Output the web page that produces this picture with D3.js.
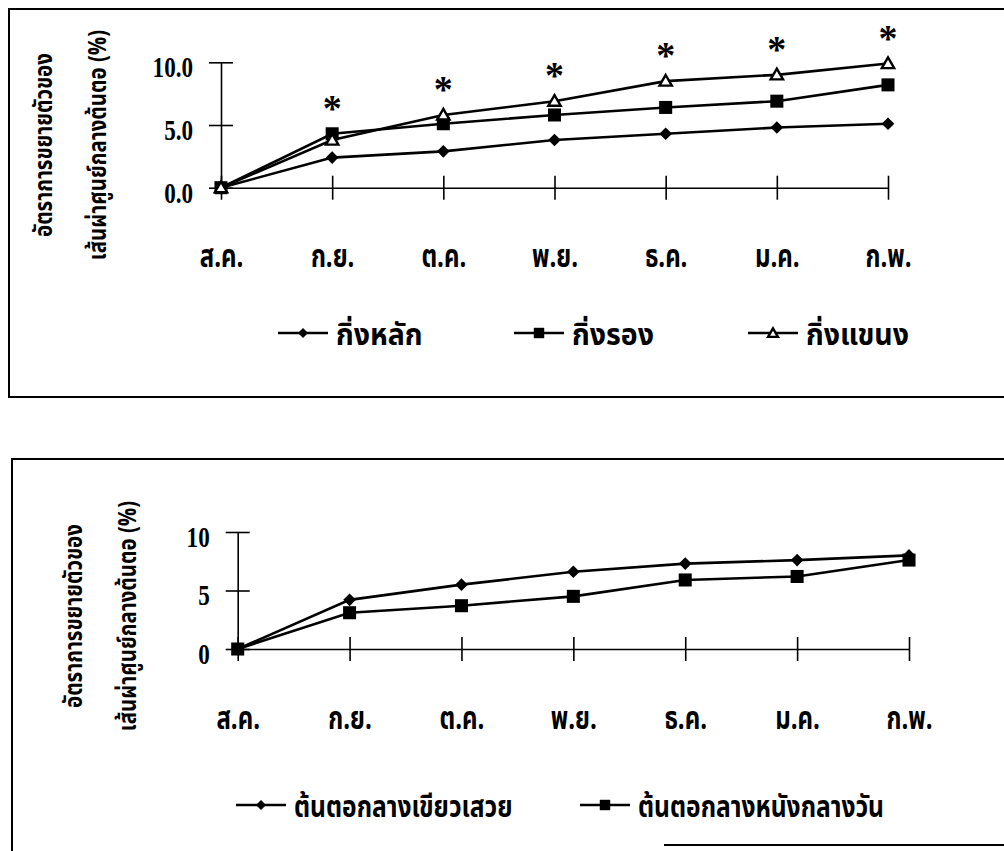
<!DOCTYPE html>
<html>
<head>
<meta charset="utf-8">
<script src="https://cdn.jsdelivr.net/npm/d3@7"></script>
<style>
  html, body { margin: 0; padding: 0; background: #fff; }
  svg { display: block; }
</style>
</head>
<body>
<svg id="chart" width="1004" height="851"></svg>
<script>
// Months (Aug – Feb)
const months = ["ส.ค.", "ก.ย.", "ต.ค.", "พ.ย.", "ธ.ค.", "ม.ค.", "ก.พ."];

// Panel 1: branch types
const branchNames = ["กิ่งหลัก", "กิ่งรอง", "กิ่งแขนง"];
const mainBranch = [0, 2.4, 2.9, 3.8, 4.3, 4.8, 5.1];
const secondaryBranch = [0, 4.3, 5.1, 5.8, 6.4, 6.9, 8.2];
const lateralBranch = [0, 3.8, 5.8, 6.9, 8.5, 9.0, 9.9];
const significant = [false, true, true, true, true, true, true];
const yTicksTop = [0, 5, 10];
const yTickLabelsTop = ["0.0", "5.0", "10.0"];

// Panel 2: rootstock types
const stockNames = ["ต้นตอกลางเขียวเสวย", "ต้นตอกลางหนังกลางวัน"];
const greenStock = [0, 4.2, 5.5, 6.6, 7.3, 7.6, 8.0];
const leatherStock = [0, 3.1, 3.7, 4.5, 5.9, 6.2, 7.6];
const yTicksBottom = [0, 5, 10];
const yTickLabelsBottom = ["0", "5", "10"];

const yTitle = ["อัตราการขยายตัวของ", "เส้นผ่าศูนย์กลางต้นตอ (%)"];

const svg = d3.select("#chart");
const thaiFont = "'Noto Sans Thai', 'Noto Sans', 'DejaVu Sans', sans-serif";
const numFont = "'Liberation Serif', 'Times New Roman', serif";

function marker(g, type, x, y, s) {
  if (type === "diamond") {
    g.append("path")
      .attr("d", d3.symbol(d3.symbolSquare, 80 * s * s)())
      .attr("transform", `translate(${x},${y}) rotate(45)`)
      .attr("fill", "#000");
  } else if (type === "square") {
    g.append("path")
      .attr("d", d3.symbol(d3.symbolSquare, 170 * s * s)())
      .attr("transform", `translate(${x},${y})`)
      .attr("fill", "#000");
  } else {
    g.append("path")
      .attr("d", d3.symbol(d3.symbolTriangle, 66 * s * s)())
      .attr("transform", `translate(${x},${y + 1})`)
      .attr("fill", "#fff")
      .attr("stroke", "#000")
      .attr("stroke-width", 2.4);
  }
}

function panel(cfg) {
  const g = svg.append("g");

  // frame
  g.append("path")
    .attr("d", cfg.frame)
    .attr("fill", "none")
    .attr("stroke", "#000")
    .attr("stroke-width", 2);

  const x = d3.scalePoint().domain(months).range([cfg.x0, cfg.x1]);
  const y = d3.scaleLinear().domain([0, 10]).range([cfg.yBottom, cfg.yTop]);

  // y axis with crossing ticks
  const yAxis = g.append("g")
    .attr("transform", `translate(${cfg.x0},0)`)
    .call(d3.axisLeft(y).tickValues(cfg.yTicks)
      .tickFormat((d, i) => cfg.yLabels[i])
      .tickSizeOuter(0).tickSizeInner(12).tickPadding(16));
  yAxis.selectAll(".tick line").attr("x1", -12).attr("x2", 12);
  yAxis.selectAll("line, path").attr("stroke", "#000").attr("stroke-width", 1.6);
  yAxis.selectAll("text")
    .attr("font-family", numFont).attr("font-weight", "bold")
    .attr("font-size", 22).attr("fill", "#000")
    .attr("x", 0).attr("dy", "0.5em")
    .attr("transform", "translate(-28,0) scale(1.05,1.3)");

  // x axis with crossing ticks
  const xAxis = g.append("g")
    .attr("transform", `translate(0,${cfg.yBottom})`)
    .call(d3.axisBottom(x).tickSizeOuter(0).tickSizeInner(12));
  xAxis.selectAll(".tick line").attr("y1", -12).attr("y2", 12);
  xAxis.selectAll("line, path").attr("stroke", "#000").attr("stroke-width", 1.6);
  xAxis.selectAll("text")
    .attr("font-family", thaiFont).attr("font-weight", "bold")
    .attr("font-size", 32).attr("fill", "#000")
    .attr("y", 0).attr("dy", 0)
    .attr("transform", `translate(0,${cfg.labelOffset}) scale(0.75,1)`);

  // y axis title (two rotated lines)
  cfg.titleX.forEach((tx, i) => {
    g.append("text")
      .attr("transform", `translate(${tx},${cfg.titleY}) rotate(-90) scale(0.82,1)`)
      .attr("text-anchor", "middle")
      .attr("font-family", thaiFont).attr("font-weight", "bold")
      .attr("font-size", 25).attr("fill", "#000")
      .text(yTitle[i]);
  });

  // series
  const line = d3.line().x((d, i) => x(months[i])).y(d => y(d));
  cfg.series.forEach(s => {
    g.append("path")
      .attr("d", line(s.values))
      .attr("fill", "none").attr("stroke", "#000").attr("stroke-width", 2.6);
  });
  cfg.series.forEach(s => {
    s.values.forEach((v, i) => marker(g, s.type, x(months[i]), y(v), 1));
  });

  // significance marks
  if (cfg.sig) {
    months.forEach((m, i) => {
      if (!cfg.sig[i]) return;
      const top = d3.max(cfg.series, s => s.values[i]);
      g.append("text")
        .attr("x", x(m)).attr("y", y(top) - 31 + 18)
        .attr("text-anchor", "middle")
        .attr("font-family", numFont).attr("font-weight", "bold")
        .attr("font-size", 38).attr("fill", "#000")
        .text("*");
    });
  }

  // legend
  cfg.series.forEach((s, i) => {
    const lx = cfg.legendX[i];
    const ly = cfg.legendY;
    g.append("line")
      .attr("x1", lx).attr("x2", lx + 50).attr("y1", ly).attr("y2", ly)
      .attr("stroke", "#000").attr("stroke-width", 2.6);
    marker(g, s.type, lx + 25, ly, 0.8);
    g.append("text")
      .attr("transform", `translate(${lx + 58},${ly + 12}) scale(${cfg.legendScale},1)`)
      .attr("font-family", thaiFont).attr("font-weight", "bold")
      .attr("font-size", cfg.legendSize).attr("fill", "#000")
      .text(s.name);
  });
}

panel({
  frame: "M1010,9 H9 V397 H1010",
  x0: 221, x1: 888, yTop: 62.3, yBottom: 187.7,
  yTicks: yTicksTop, yLabels: yTickLabelsTop,
  labelOffset: 79,
  titleX: [52, 106], titleY: 145,
  series: [
    { name: branchNames[0], values: mainBranch, type: "diamond" },
    { name: branchNames[1], values: secondaryBranch, type: "square" },
    { name: branchNames[2], values: lateralBranch, type: "triangle" }
  ],
  sig: significant,
  legendX: [278, 514, 748], legendY: 333,
  legendSize: 30, legendScale: 0.95
});

panel({
  frame: "M1010,459 H12 V851 M664,845 H1010",
  x0: 237.7, x1: 909, yTop: 532, yBottom: 649,
  yTicks: yTicksBottom, yLabels: yTickLabelsBottom,
  labelOffset: 80,
  titleX: [82, 136], titleY: 616,
  series: [
    { name: stockNames[0], values: greenStock, type: "diamond" },
    { name: stockNames[1], values: leatherStock, type: "square" }
  ],
  sig: null,
  legendX: [236, 580], legendY: 805,
  legendSize: 30, legendScale: 0.82
});
</script>
</body>
</html>
